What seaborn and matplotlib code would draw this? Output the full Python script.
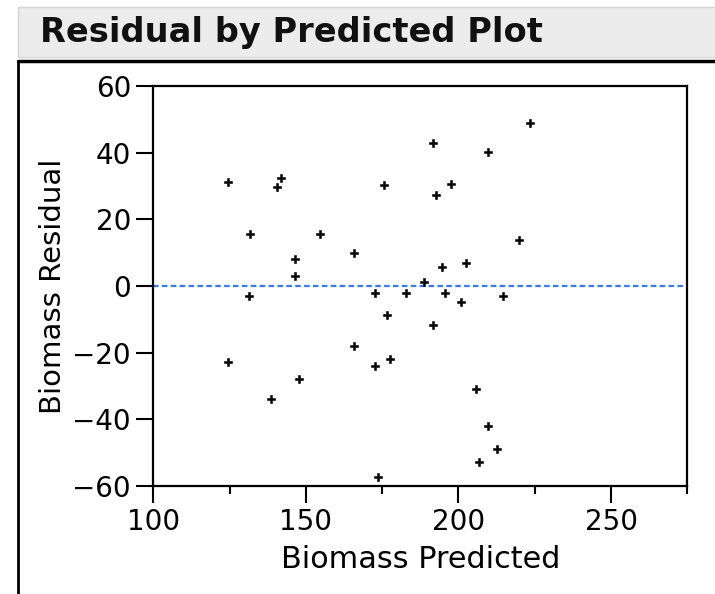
import numpy as np
import pandas as pd
import matplotlib.pyplot as plt
import seaborn as sns
from matplotlib.patches import Rectangle
from matplotlib.lines import Line2D
from matplotlib.ticker import MultipleLocator

# values
predicted = [124.6, 141.7, 140.5, 175.5, 131.7, 154.6, 165.8, 146.5, 146.5, 131.5,
             172.7, 182.7, 223.6, 191.5, 209.7, 197.7, 192.6, 219.7, 194.6, 202.6,
             188.6, 195.7, 214.6, 176.7, 124.6, 165.7, 172.7, 177.5, 147.8, 138.7,
             173.7, 200.7, 191.5, 205.6, 209.7, 212.6, 206.6]
residual = [31.1, 32.4, 29.6, 30.4, 15.6, 15.6, 9.9, 8.0, 3.0, -3.0,
            -2.2, -2.2, 48.8, 42.8, 40.2, 30.7, 27.2, 13.8, 5.6, 6.8,
            1.2, -2.2, -3.0, -8.6, -22.7, -17.9, -24.1, -22.0, -28.0, -33.9,
            -57.2, -4.9, -11.8, -30.8, -41.9, -48.8, -52.9]
x_ticks = [100, 150, 200, 250]
y_ticks = [-60, -40, -20, 0, 20, 40, 60]

df = pd.DataFrame({'Biomass Predicted': predicted, 'Biomass Residual': residual})

sns.set_style('ticks')
plt.rcParams['font.family'] = ['DejaVu Sans']
plt.rcParams['text.color'] = 'black'
plt.rcParams['axes.labelcolor'] = 'black'
plt.rcParams['xtick.color'] = 'black'
plt.rcParams['ytick.color'] = 'black'

fig = plt.figure(figsize=(7.15, 5.94), dpi=100)
ax = fig.add_axes([0.2144, 0.1818, 0.7469, 0.6734])

# title bar
fig.patches.append(Rectangle((18/715, 1-57/594), 1, 50/594, transform=fig.transFigure,
                             facecolor='#ececec', edgecolor='#d4d4d4', lw=1, zorder=0))
fig.text(40/715, 1-42/594, 'Residual by Predicted Plot', fontsize=24.2, fontweight='bold',
         va='baseline', ha='left', color='#111111')
fig.lines.append(Line2D([18/715, 1], [1-61/594, 1-61/594], transform=fig.transFigure,
                        color='black', lw=2.5))
fig.lines.append(Line2D([18/715, 18/715], [1-61/594, 0], transform=fig.transFigure,
                        color='black', lw=2))

ax.axhline(0, color='#2f7bff', lw=1.6, ls=(0, (2.5, 1.5)), zorder=1)
sns.scatterplot(data=df, x='Biomass Predicted', y='Biomass Residual', ax=ax,
                marker='P', s=40, color='black', edgecolor='black', linewidth=0.4, zorder=3)

ax.set_xlim(100, 275)
ax.set_ylim(-60, 60)
ax.set_xticks(x_ticks)
ax.set_yticks(y_ticks)
ax.xaxis.set_minor_locator(MultipleLocator(25))
ax.tick_params(which='major', length=12, width=1.5, labelsize=20, direction='out', pad=4)
ax.tick_params(axis='x', which='minor', length=6, width=1.5, direction='out')
for s in ax.spines.values():
    s.set_linewidth(1.6)
    s.set_color('black')
ax.set_xlabel('Biomass Predicted', fontsize=21.8, labelpad=6)
ax.set_ylabel('Biomass Residual', fontsize=21, labelpad=4)

fig.savefig('out.png', dpi=100)
